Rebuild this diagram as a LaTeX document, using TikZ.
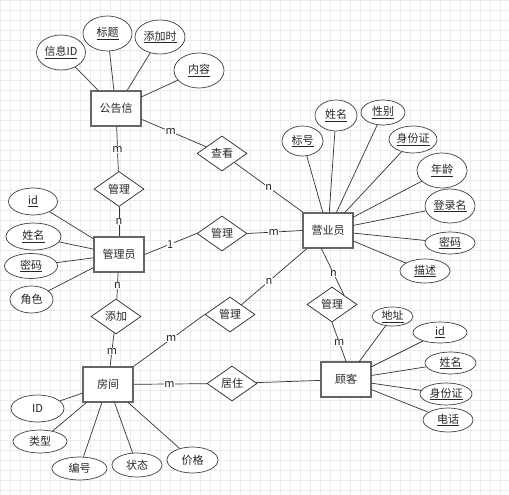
\documentclass[tikz,border=0pt]{standalone}
\usepackage{fontspec}
\setmainfont{Noto Sans CJK SC}
\usetikzlibrary{shapes.geometric}
\tikzset{
  entity/.style={rectangle,draw=black!60,line width=1.2pt,minimum width=50pt,minimum height=35pt,fill=white},
  attr/.style={ellipse,draw=black!75,line width=0.7pt,inner sep=0pt,fill=white},
  rel/.style={diamond,draw=black!85,line width=0.7pt,aspect=1.43,inner sep=0pt,minimum width=50pt,minimum height=35pt,fill=white},
  link/.style={draw=black!80,line width=0.7pt},
  lbl/.style={fill=white,inner sep=0.5pt},
}
\begin{document}
\begin{tikzpicture}[x=1pt,y=-1pt,font=\fontsize{11}{13}\selectfont,text=black!85]
                    \useasboundingbox (0,0) rectangle (509,495);
                    \fill[white] (0,0) rectangle (509,495);
                    \draw[black!8,step=10pt] (0pt,0pt) grid (509pt,-495pt);

                    %NODE
                    \node[entity] (A) at (116,108.5){公告信};
                    \node[entity] (B) at (328,230.5){营业员};
                    \node[entity] (C) at (119,254.5){管理员};
                    \node[entity] (D) at (108,384.5){房间};
                    \node[entity] (E) at (346,379.5){顾客};

                    \node[rel] (R1) at (222,153.5){查看};
                    \node[rel] (R2) at (119,189){管理};
                    \node[rel] (R3) at (222,233.5){管理};
                    \node[rel] (R4) at (116,316.5){添加};
                    \node[rel] (R5) at (230,314.5){管理};
                    \node[rel] (R6) at (232,383.5){居住};
                    \node[rel] (R7) at (332,304.5){管理};

                    \node[attr,minimum width=49pt,minimum height=35pt] (A1) at (61,52.5){\underline{信息ID}};
                    \node[attr,minimum width=49pt,minimum height=35pt] (A2) at (107.5,33.5){\underline{标题}};
                    \node[attr,minimum width=50pt,minimum height=34pt] (A3) at (160,37){\underline{添加时}};
                    \node[attr,minimum width=50pt,minimum height=35pt] (A4) at (199,70.5){\underline{内容}};

                    \node[attr,minimum width=41pt,minimum height=30pt] (B1) at (302.5,141){\underline{标号}};
                    \node[attr,minimum width=42pt,minimum height=31pt] (B2) at (336,115.5){\underline{姓名}};
                    \node[attr,minimum width=44pt,minimum height=25pt] (B3) at (383,112.5){\underline{性别}};
                    \node[attr,minimum width=48pt,minimum height=27pt] (B4) at (413,139.5){\underline{身份证}};
                    \node[attr,minimum width=50pt,minimum height=35pt] (B5) at (442,170.5){\underline{年龄}};
                    \node[attr,minimum width=50pt,minimum height=34pt] (B6) at (450,206){\underline{登录名}};
                    \node[attr,minimum width=50pt,minimum height=22pt] (B7) at (450,243){\underline{密码}};
                    \node[attr,minimum width=50pt,minimum height=24pt] (B8) at (425,271){\underline{描述}};

                    \node[attr,minimum width=49pt,minimum height=27pt] (C1) at (33,201.5){\underline{id}};
                    \node[attr,minimum width=55pt,minimum height=27pt] (C2) at (33.5,236.5){\underline{姓名}};
                    \node[attr,minimum width=53pt,minimum height=25pt] (C3) at (31,266){\underline{密码}};
                    \node[attr,minimum width=43pt,minimum height=27pt] (C4) at (31.5,299.5){角色};

                    \node[attr,minimum width=53pt,minimum height=27pt] (D1) at (37.5,408.5){ID};
                    \node[attr,minimum width=54pt,minimum height=23pt] (D2) at (40,441.5){类型};
                    \node[attr,minimum width=55pt,minimum height=23pt] (D3) at (79.5,468.5){编号};
                    \node[attr,minimum width=50pt,minimum height=24pt] (D4) at (137,465){状态};
                    \node[attr,minimum width=51pt,minimum height=26pt] (D5) at (192.5,460){价格};

                    \node[attr,minimum width=41pt,minimum height=19pt] (E1) at (392.5,316.5){\underline{地址}};
                    \node[attr,minimum width=54pt,minimum height=21pt] (E2) at (440,332.5){\underline{id}};
                    \node[attr,minimum width=51pt,minimum height=22pt] (E3) at (450.5,363){\underline{姓名}};
                    \node[attr,minimum width=52pt,minimum height=22pt] (E4) at (446,394){\underline{身份证}};
                    \node[attr,minimum width=50pt,minimum height=24pt] (E5) at (448,420){\underline{电话}};

                    %EDGE
                    \draw[link] (A) -- node[lbl,pos=0.45]{m} (R1);
                    \draw[link] (R1) -- node[lbl,pos=0.5]{n} (B);
                    \draw[link] (A) -- node[lbl,pos=0.5]{m} (R2);
                    \draw[link] (R2) -- node[lbl,pos=0.5]{n} (C);
                    \draw[link] (C.east) -- node[lbl,pos=0.49]{1} (R3.west);
                    \draw[link] (R3.east) -- node[lbl,pos=0.48]{m} (B.west);
                    \draw[link] (C) -- node[lbl,pos=0.5]{n} (R4);
                    \draw[link] (R4) -- node[lbl,pos=0.55]{m} (D);
                    \draw[link] (D.north east) -- node[lbl,pos=0.53]{m} (R5.west);
                    \draw[link] (R5) -- node[lbl,pos=0.42]{n} (B);
                    \draw[link] (D) -- node[lbl,pos=0.49]{m} (R6);
                    \draw[link] (R6) -- (E);
                    \draw[link] (B.250) -- node[lbl,pos=0.53]{n} (R7.38);
                    \draw[link] (R7.south) -- node[lbl,pos=0.52]{m} (E.north);

                    \foreach \i in {1,...,4} \draw[link] (A) -- (A\i);
                    \foreach \i in {1,...,8} \draw[link] (B) -- (B\i);
                    \foreach \i in {1,...,4} \draw[link] (C) -- (C\i);
                    \foreach \i in {1,...,5} \draw[link] (D) -- (D\i);
                    \foreach \i in {1,...,5} \draw[link] (E) -- (E\i);
                \end{tikzpicture}
\end{document}
